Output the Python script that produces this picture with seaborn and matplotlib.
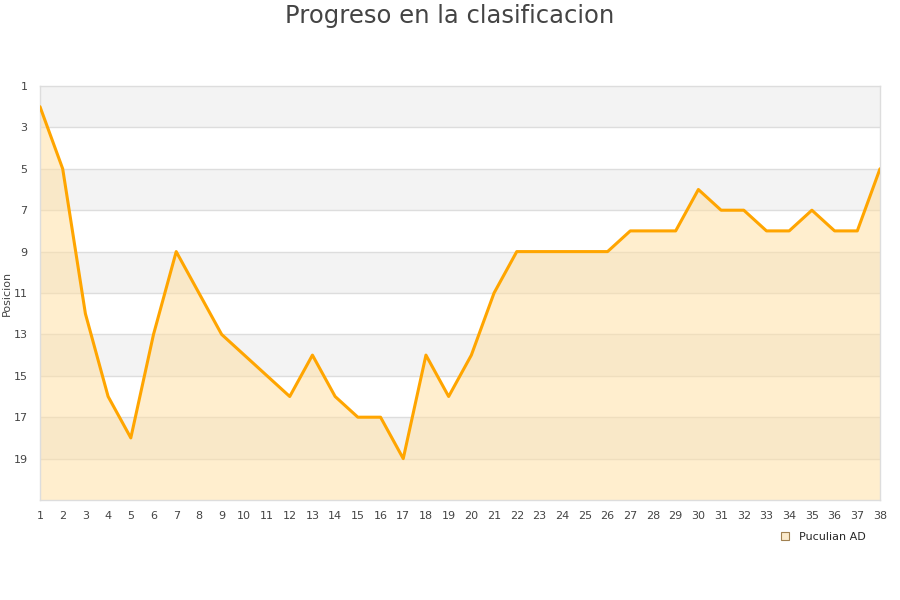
import matplotlib
matplotlib.use("Agg")
import matplotlib.pyplot as plt
import numpy as np
import pandas as pd
import seaborn as sns
from matplotlib.lines import Line2D

# datos
jornadas = list(range(1, 39))
posicion = [2, 5, 12, 16, 18, 13, 9, 11, 13, 14, 15, 16, 14, 16, 17, 17, 19, 14, 16, 14,
            11, 9, 9, 9, 9, 9, 8, 8, 8, 6, 7, 7, 8, 8, 7, 8, 8, 5]
equipo = "Puculian AD"
titulo = "Progreso en la clasificacion"

df = pd.DataFrame({"Jornada": jornadas, "Posicion": posicion})

sns.set_style("white")
plt.rcParams["font.family"] = ["DejaVu Sans"]

fig = plt.figure(figsize=(9, 6), dpi=100)
ax = fig.add_axes([40 / 900, 100 / 600, 840 / 900, 414 / 600])

# bandas alternas
for lo in range(1, 21, 4):
    ax.axhspan(lo, lo + 2, color="#f3f3f3", zorder=0, lw=0)
for yv in range(3, 21, 2):
    ax.axhline(yv, color="#dddddd", lw=1, zorder=1)

ax.fill_between(df["Jornada"], df["Posicion"], 21, color="#ffe0a6", alpha=0.55,
                lw=0, zorder=2)
sns.lineplot(data=df, x="Jornada", y="Posicion", ax=ax, color="#ffa500", lw=2.2,
             zorder=3)

ax.set_xlim(1, 38)
ax.set_ylim(21, 1)
ax.set_xticks(jornadas)
ax.set_yticks(range(1, 21, 2))
ax.tick_params(axis="both", length=0, labelsize=8, colors="#444444")
ax.tick_params(axis="x", pad=8)
ax.tick_params(axis="y", pad=9)
ax.set_xlabel("")
ax.set_ylabel("Posicion", fontsize=8, color="#444444", labelpad=1)
for s in ax.spines.values():
    s.set_color("#dddddd")
    s.set_linewidth(1)

fig.text(0.5, 1 - 16 / 600, titulo, ha="center", va="center", fontsize=17.5,
         color="#444444")

handle = Line2D([], [], marker="s", ls="", markersize=6, markerfacecolor="#fbeacb",
                markeredgecolor="#a08050", markeredgewidth=0.8)
fig.legend([handle], [equipo], loc="center", bbox_to_anchor=(820 / 900, 1 - 537 / 600),
           frameon=False, fontsize=8, handletextpad=0.3)

fig.savefig("out.png", dpi=100)
